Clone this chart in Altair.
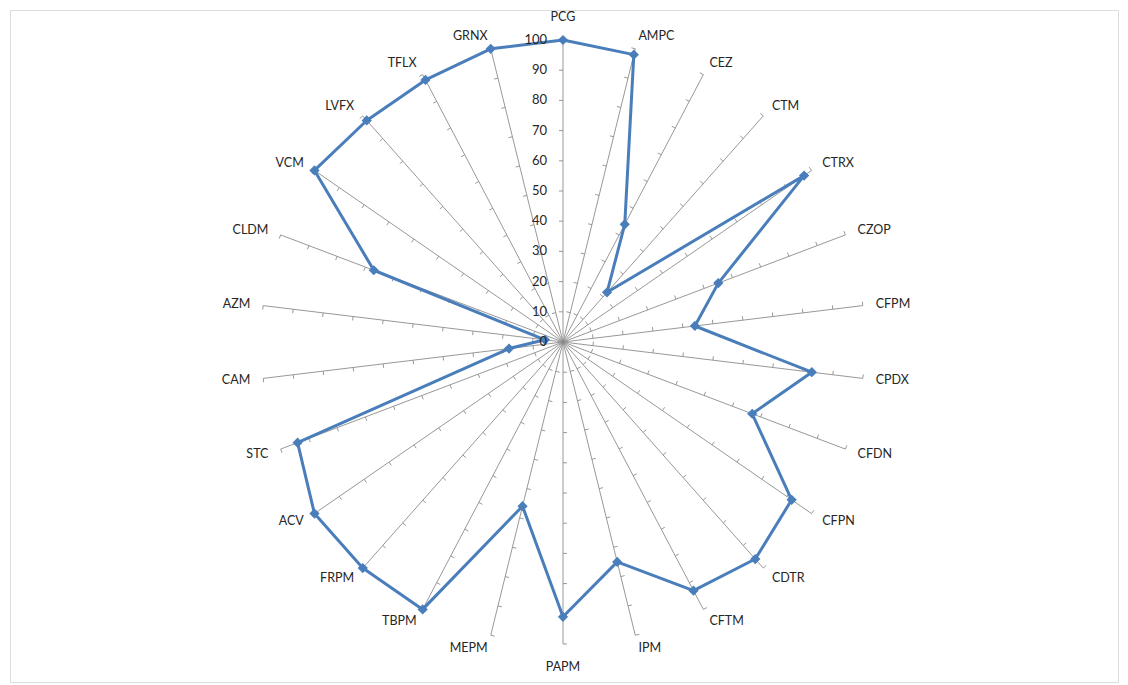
import altair as alt
import pandas as pd

# ---- data ----
categories = ["PCG", "AMPC", "CEZ", "CTM", "CTRX", "CZOP", "CFPM", "CPDX", "CFDN",
              "CFPN", "CDTR", "CFTM", "IPM", "PAPM", "MEPM", "TBPM", "FRPM", "ACV",
              "STC", "CAM", "AZM", "CLDM", "VCM", "LVFX", "TFLX", "GRNX"]
values = [100, 98, 44, 22, 97, 55, 44, 83, 67, 92, 96, 93, 75, 91, 56, 100, 100,
          100, 94, 18, 6, 67, 100, 98, 98, 100]
axis_ticks = [0, 10, 20, 30, 40, 50, 60, 70, 80, 90, 100]
r_max = 100

N = len(categories)
PX = 3.02                    # pixels per unit
PAD = 2
W, H = 1108, 672
CX, CY = 553, 332
xdom = [-CX / PX, (W - CX) / PX]
ydom = [-(H - CY) / PX, CY / PX]
xs = alt.Scale(domain=xdom, nice=False, zero=False)
ys = alt.Scale(domain=ydom, nice=False, zero=False)
ANG = f"datum.idx * 2 * PI / {N}"

cats_df = pd.DataFrame({"idx": list(range(N)), "cat": categories})
series_df = pd.DataFrame({"idx": list(range(N)) + [0],
                          "ord": list(range(N + 1)),
                          "value": values + [values[0]]})
ticks_df = pd.DataFrame([{"idx": i, "level": t} for i in range(N) for t in axis_ticks if t > 0])
vals_df = pd.DataFrame({"level": axis_ticks})

GRID = "#8c8c8c"
BLUE = "#4A7EBB"
FONT = "Lato"
TXT = "#262626"

spokes = alt.Chart(cats_df).transform_calculate(
    a=ANG
).transform_calculate(
    x0="0", y0="0",
    x1=f"{r_max} * sin(datum.a)", y1=f"{r_max} * cos(datum.a)"
).mark_rule(color=GRID, strokeWidth=0.9).encode(
    x=alt.X("x0:Q", scale=xs, axis=None),
    y=alt.Y("y0:Q", scale=ys, axis=None),
    x2="x1:Q", y2="y1:Q"
)

TL = 4 / PX
ticks = alt.Chart(ticks_df).transform_calculate(
    a=ANG
).transform_calculate(
    px="datum.level * sin(datum.a)", py="datum.level * cos(datum.a)"
).transform_calculate(
    qx=f"datum.px - {TL} * cos(datum.a)", qy=f"datum.py + {TL} * sin(datum.a)"
).mark_rule(color=GRID, strokeWidth=0.9).encode(
    x=alt.X("px:Q", scale=xs, axis=None),
    y=alt.Y("py:Q", scale=ys, axis=None),
    x2="qx:Q", y2="qy:Q"
)

line = alt.Chart(series_df).transform_calculate(
    a=ANG
).transform_calculate(
    x="datum.value * sin(datum.a)", y="datum.value * cos(datum.a)"
).mark_line(color=BLUE, strokeWidth=3, strokeJoin="round").encode(
    x=alt.X("x:Q", scale=xs, axis=None),
    y=alt.Y("y:Q", scale=ys, axis=None),
    order="ord:Q"
)

points = alt.Chart(series_df).transform_filter("datum.ord < " + str(N)).transform_calculate(
    a=ANG
).transform_calculate(
    x="datum.value * sin(datum.a)", y="datum.value * cos(datum.a)"
).mark_point(shape="diamond", filled=True, size=105, color=BLUE, opacity=1).encode(
    x=alt.X("x:Q", scale=xs, axis=None),
    y=alt.Y("y:Q", scale=ys, axis=None)
)

R_SIDE = r_max + 13 / PX
R_TB = r_max + 23 / PX


def cat_labels(cond, align, rr):
    return alt.Chart(cats_df).transform_calculate(
        a=ANG
    ).transform_calculate(
        s="sin(datum.a)"
    ).transform_filter(cond).transform_calculate(
        lx=f"{rr} * sin(datum.a)", ly=f"{rr} * cos(datum.a)"
    ).mark_text(align=align, baseline="middle", font=FONT, fontSize=12.5, color=TXT).encode(
        x=alt.X("lx:Q", scale=xs, axis=None),
        y=alt.Y("ly:Q", scale=ys, axis=None),
        text="cat:N"
    )


lab_r = cat_labels("datum.s > 0.01", "left", R_SIDE)
lab_l = cat_labels("datum.s < -0.01", "right", R_SIDE)
lab_c = cat_labels("abs(datum.s) <= 0.01", "center", R_TB)

val_labels = alt.Chart(vals_df).transform_calculate(
    vx=f"{-16 / PX}"
).mark_text(align="right", baseline="middle", font=FONT, fontSize=13, color=TXT).encode(
    x=alt.X("vx:Q", scale=xs, axis=None),
    y=alt.Y("level:Q", scale=ys, axis=None),
    text="level:Q"
)

chart = alt.layer(spokes, ticks, line, points, lab_r, lab_l, lab_c, val_labels).properties(
    width=W, height=H,
    padding={"left": PAD, "top": PAD, "right": PAD, "bottom": PAD},
    autosize=alt.AutoSizeParams(type="none")
).configure_view(stroke="#a6a6a6", strokeWidth=1.5).configure(background="white")

chart.save("out.html", embed_options={"renderer": "svg", "actions": False})
